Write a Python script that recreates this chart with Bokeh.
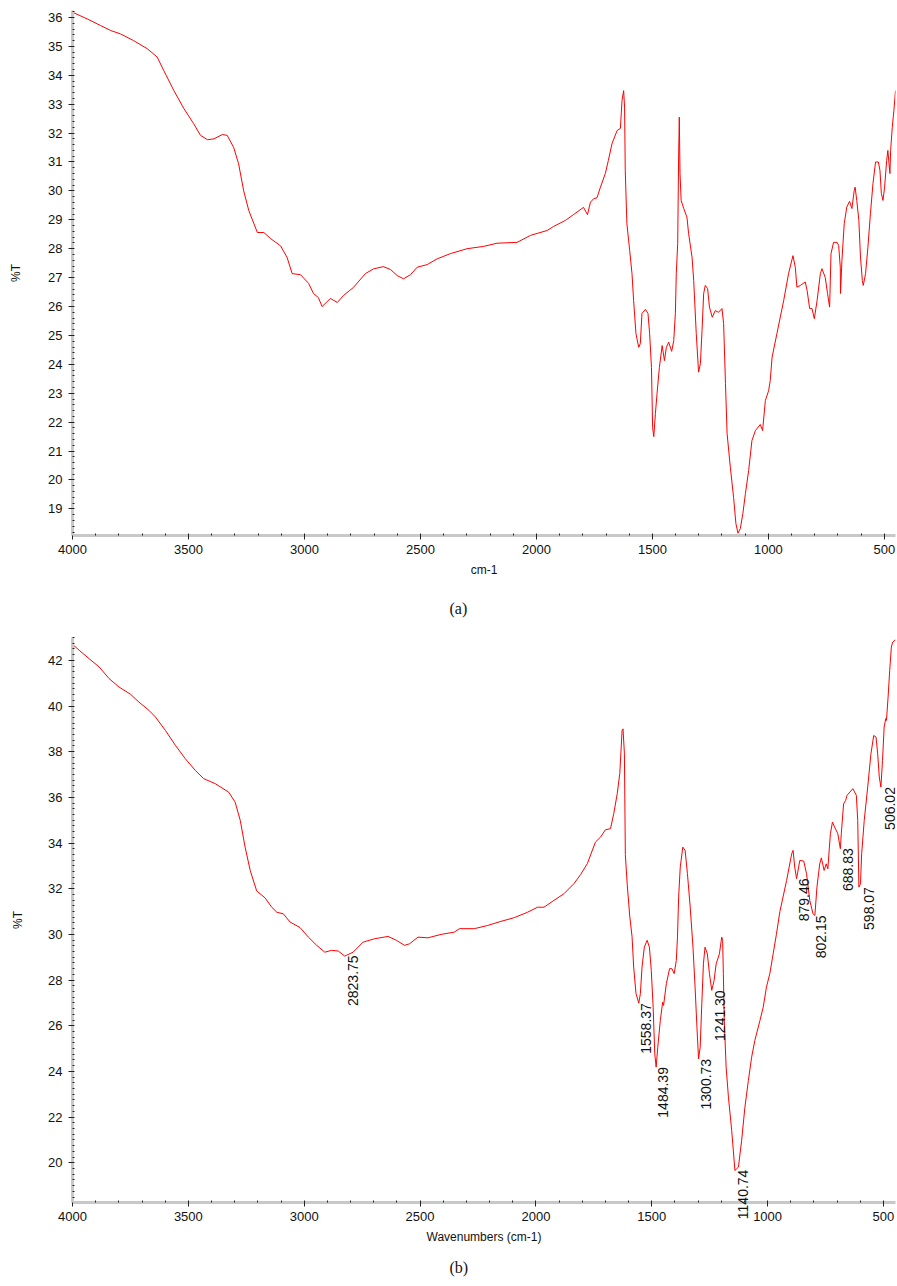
import math
from bokeh.plotting import figure
from bokeh.models import Range1d, SingleIntervalTicker, Title, Label
from bokeh.layouts import column
from bokeh.embed import file_html
from bokeh.resources import INLINE

# ---------------- data: spectrum (a) ----------------
a_wavenumber = [
    4000, 3937, 3879, 3836, 3793, 3737, 3678, 3635, 3607, 3563, 3520, 3478, 3448, 3418, 3390,
    3354, 3333, 3305, 3284, 3262, 3240, 3203, 3175, 3146, 3103, 3075, 3053, 3017, 2982, 2961,
    2940, 2924, 2888, 2858, 2832, 2789, 2737, 2703, 2660, 2629, 2600, 2573, 2543, 2514, 2471,
    2428, 2371, 2299, 2228, 2170, 2083, 2026, 1954, 1926, 1875, 1840, 1797, 1780, 1767, 1753,
    1739, 1724, 1703, 1690, 1674, 1652, 1638, 1631, 1624, 1620, 1617, 1610, 1598, 1588, 1581,
    1571, 1559, 1552, 1545, 1530, 1519, 1512, 1504, 1499, 1494, 1487, 1480, 1470, 1458, 1448,
    1440, 1430, 1417, 1408, 1401, 1397, 1391, 1387, 1384, 1381, 1376, 1365, 1351, 1344, 1329,
    1322, 1311, 1301, 1293, 1286, 1279, 1272, 1262, 1254, 1242, 1229, 1215, 1200, 1193, 1185,
    1178, 1164, 1150, 1140, 1131, 1121, 1110, 1099, 1085, 1071, 1056, 1035, 1025, 1013, 999,
    992, 984, 963, 934, 913, 894, 884, 877, 862, 841, 833, 822, 812, 802, 790,
    776, 769, 755, 745, 736, 730, 719, 704, 697, 690, 689, 683, 673, 662, 650,
    640, 630, 626, 619, 610, 603, 595, 591, 581, 571, 560, 549, 538, 526, 519,
    513, 506, 499, 490, 485, 480, 476, 473, 466, 459, 452,
]
a_transmittance = [
    36.18, 35.95, 35.72, 35.55, 35.43, 35.20, 34.92, 34.63, 34.17, 33.47, 32.85, 32.33, 31.92, 31.77, 31.80,
    31.95, 31.92, 31.50, 30.94, 30.00, 29.32, 28.56, 28.56, 28.35, 28.10, 27.70, 27.14, 27.10, 26.80, 26.45,
    26.31, 26.00, 26.28, 26.14, 26.38, 26.66, 27.14, 27.30, 27.38, 27.28, 27.07, 26.96, 27.10, 27.36, 27.45,
    27.65, 27.83, 28.00, 28.08, 28.19, 28.22, 28.46, 28.63, 28.77, 28.98, 29.18, 29.43, 29.18, 29.61, 29.73,
    29.76, 30.13, 30.60, 31.05, 31.64, 32.09, 32.16, 33.13, 33.47, 32.90, 30.70, 28.87, 27.94, 27.14, 26.21,
    25.07, 24.59, 24.72, 25.76, 25.90, 25.76, 25.07, 23.89, 21.81, 21.50, 22.30, 22.99, 23.89, 24.65, 24.13,
    24.58, 24.77, 24.45, 24.82, 25.76, 27.14, 28.18, 31.17, 32.55, 30.60, 29.67, 29.39, 29.09, 28.53, 27.70,
    26.90, 25.07, 23.73, 24.03, 25.17, 26.45, 26.73, 26.62, 25.98, 25.63, 25.86, 25.80, 25.93, 25.41, 23.34,
    21.60, 20.44, 19.40, 18.49, 18.16, 18.32, 18.84, 19.53, 20.33, 21.36, 21.71, 21.92, 21.71, 22.75, 23.09,
    23.44, 24.25, 25.07, 26.21, 27.14, 27.76, 27.36, 26.67, 26.73, 26.85, 26.55, 25.93, 25.93, 25.58, 26.21,
    27.14, 27.31, 27.01, 26.45, 25.98, 27.83, 28.22, 28.22, 28.11, 27.36, 26.45, 27.59, 28.87, 29.44, 29.64,
    29.39, 30.01, 30.13, 29.67, 28.98, 27.71, 26.90, 26.73, 27.14, 28.05, 29.22, 30.26, 31.00, 31.00, 30.71,
    29.91, 29.67, 30.13, 31.05, 31.40, 30.95, 30.60, 31.40, 32.20, 32.78, 33.47,
]

# ---------------- data: spectrum (b) ----------------
b_wavenumber = [
    4000, 3971, 3928, 3885, 3842, 3799, 3749, 3713, 3670, 3642, 3599, 3556, 3513, 3470, 3434,
    3384, 3326, 3298, 3276, 3255, 3233, 3205, 3169, 3140, 3118, 3090, 3061, 3018, 2982, 2946,
    2911, 2882, 2853, 2825, 2789, 2746, 2696, 2638, 2602, 2567, 2545, 2509, 2466, 2409, 2352,
    2330, 2266, 2208, 2151, 2094, 2036, 1993, 1965, 1922, 1879, 1836, 1807, 1778, 1743, 1721,
    1700, 1678, 1664, 1649, 1638, 1628, 1624, 1618, 1614, 1606, 1595, 1585, 1578, 1568, 1556,
    1549, 1542, 1532, 1520, 1510, 1502, 1494, 1487, 1481, 1474, 1463, 1453, 1449, 1437, 1423,
    1413, 1403, 1394, 1389, 1384, 1377, 1366, 1356, 1346, 1334, 1322, 1313, 1305, 1298, 1291,
    1284, 1277, 1270, 1260, 1251, 1241, 1231, 1222, 1208, 1198, 1194, 1191, 1187, 1179, 1169,
    1155, 1141, 1126, 1112, 1098, 1083, 1069, 1055, 1033, 1019, 1005, 990, 976, 962, 947,
    918, 896, 890, 883, 875, 861, 844, 832, 818, 804, 796, 787, 775, 768, 756,
    747, 740, 729, 720, 711, 697, 686, 682, 672, 663, 657, 632, 617, 611, 606,
    599, 594, 583, 568, 554, 542, 532, 525, 518, 511, 504, 497, 490, 487, 480,
    473, 466, 460, 448,
]
b_transmittance = [
    42.70, 42.44, 42.07, 41.71, 41.20, 40.83, 40.51, 40.17, 39.81, 39.52, 38.93, 38.28, 37.69, 37.18, 36.82,
    36.60, 36.23, 35.79, 34.99, 33.82, 32.80, 31.90, 31.60, 31.19, 30.97, 30.90, 30.54, 30.30, 29.88, 29.52,
    29.22, 29.30, 29.27, 29.05, 29.22, 29.66, 29.81, 29.91, 29.74, 29.52, 29.59, 29.88, 29.85, 30.00, 30.10,
    30.25, 30.25, 30.39, 30.57, 30.73, 30.97, 31.19, 31.19, 31.49, 31.78, 32.22, 32.62, 33.10, 34.04, 34.26,
    34.58, 34.63, 35.29, 36.16, 37.04, 38.93, 39.00, 37.91, 33.50, 32.20, 30.80, 29.90, 28.57, 27.41, 26.99,
    27.41, 28.57, 29.44, 29.74, 29.44, 28.42, 26.81, 24.77, 24.19, 25.06, 26.23, 27.03, 26.89, 27.84, 28.50,
    28.50, 28.28, 28.86, 29.88, 31.63, 32.95, 33.82, 33.68, 32.66, 31.19, 29.44, 27.69, 25.94, 24.55, 25.06,
    26.96, 28.71, 29.44, 29.15, 28.28, 27.55, 27.98, 28.71, 29.15, 29.88, 29.74, 28.28, 26.23, 24.19, 22.87,
    21.41, 19.66, 19.81, 20.98, 22.43, 23.60, 24.62, 25.36, 26.23, 26.81, 27.69, 28.30, 29.15, 30.00, 31.00,
    32.36, 33.53, 33.68, 32.95, 32.44, 33.24, 33.21, 32.66, 31.49, 30.90, 30.83, 32.07, 33.09, 33.35, 32.80,
    33.09, 32.87, 34.41, 34.92, 34.70, 34.41, 33.75, 34.41, 35.72, 35.87, 36.09, 36.38, 36.09, 34.99, 32.07,
    32.22, 33.53, 34.99, 36.45, 37.91, 38.71, 38.64, 37.91, 36.89, 36.45, 37.62, 39.08, 39.45, 39.37, 40.39,
    41.56, 42.58, 42.80, 42.90,
]

# ---------------- data: peak annotations of (b) ----------------
peak_wavenumber = [2823.75, 1558.37, 1484.39, 1300.73, 1241.30, 1140.74, 879.46, 802.15, 688.83, 598.07, 506.02]
peak_transmittance = [29.08, 26.99, 24.19, 24.55, 27.55, 19.70, 32.45, 30.83, 33.77, 32.07, 36.45]
peak_label = ["2823.75", "1558.37", "1484.39", "1300.73", "1241.30", "1140.74", "879.46", "802.15", "688.83", "598.07", "506.02"]

FONT = "Liberation Sans"


def style(p, y_interval, y_minor):
    p.xaxis.ticker = SingleIntervalTicker(interval=500, num_minor_ticks=5)
    p.yaxis.ticker = SingleIntervalTicker(interval=y_interval, num_minor_ticks=y_minor)
    for ax in (p.xaxis[0], p.yaxis[0]):
        ax.axis_line_color = "#c8c8c8"
        ax.axis_line_width = 3
        ax.major_tick_line_color = "#222222"
        ax.minor_tick_line_color = "#222222"
        ax.major_tick_in = 1
        ax.major_tick_out = 4
        ax.minor_tick_in = 2
        ax.minor_tick_out = 0
        ax.major_label_text_font = FONT
        ax.major_label_text_font_size = "13px"
        ax.major_label_text_color = "#111111"
        ax.axis_label_text_font = FONT
        ax.axis_label_text_font_size = "12px"
        ax.axis_label_text_font_style = "normal"
        ax.axis_label_text_color = "#111111"
    p.xaxis.major_label_standoff = 5
    p.yaxis.major_label_standoff = 6
    p.xaxis.axis_label_standoff = 6
    p.yaxis.axis_label_standoff = 22
    p.grid.visible = False
    p.outline_line_color = None
    p.background_fill_color = "white"
    p.border_fill_color = "white"


# ---- panel (a): frame 72..895 x 10..535 ----
p1 = figure(width=897, height=634, x_range=Range1d(4000, 452), y_range=Range1d(18.08, 36.24),
            output_backend="svg", toolbar_location=None,
            min_border_left=72, min_border_right=2, min_border_top=10, min_border_bottom=99)
p1.line(a_wavenumber, a_transmittance, line_color="#ff0000", line_width=1)
style(p1, 1, 5)
p1.xaxis.axis_label = "cm-1"
p1.yaxis.axis_label = "%T"
p1.add_layout(Title(text="(a)", align="left", offset=377, standoff=36, text_font="Liberation Serif",
                    text_font_size="16px", text_font_style="normal", text_color="#111111"), "below")

# ---- panel (b): frame 72..896 x 637..1202 ----
B_X0, B_X1 = 4000, 448
B_Y0, B_Y1 = 18.26, 43.0
B_FRAME_LEFT, B_RIGHT_BORDER, B_WIDTH = 72, 1, 897
p2 = figure(width=B_WIDTH, height=651, x_range=Range1d(B_X0, B_X1), y_range=Range1d(B_Y0, B_Y1),
            output_backend="svg", toolbar_location=None,
            min_border_left=B_FRAME_LEFT, min_border_right=B_RIGHT_BORDER, min_border_top=3,
            min_border_bottom=83)
p2.line(b_wavenumber, b_transmittance, line_color="#ff0000", line_width=1)
style(p2, 2, 8)
p2.xaxis.axis_label = "Wavenumbers (cm-1)"
p2.add_layout(Title(text="(b)", align="left", offset=377, standoff=20, text_font="Liberation Serif",
                    text_font_size="16px", text_font_style="normal", text_color="#111111"), "below")
for wn, tr, lab in zip(peak_wavenumber, peak_transmittance, peak_label):
    lbl = Label(x=wn, y=tr, text=lab, angle=math.pi / 2, text_align="right",
                text_baseline="top", x_offset=3, y_offset=0, text_font=FONT,
                text_font_size="14px", text_color="#111111")
    # the deepest label runs past the axis: keep it in a side panel so it is not clipped
    p2.add_layout(lbl, "left" if tr < 20 else "center")

# y-axis title of (b): a side-panel label (not clipped), 55 px left of the frame, centred vertically
frame_w = B_WIDTH - B_FRAME_LEFT - B_RIGHT_BORDER
units_per_px = (B_X0 - B_X1) / frame_w
p2.add_layout(Label(x=B_X0 + 55 * units_per_px, y=(B_Y0 + B_Y1) / 2, text="%T", angle=math.pi / 2,
                    text_align="center", text_baseline="middle", text_font=FONT,
                    text_font_size="12px", text_color="#111111"), "left")

layout = column(p1, p2, spacing=0)
open("out.html", "w").write(file_html(layout, INLINE))
